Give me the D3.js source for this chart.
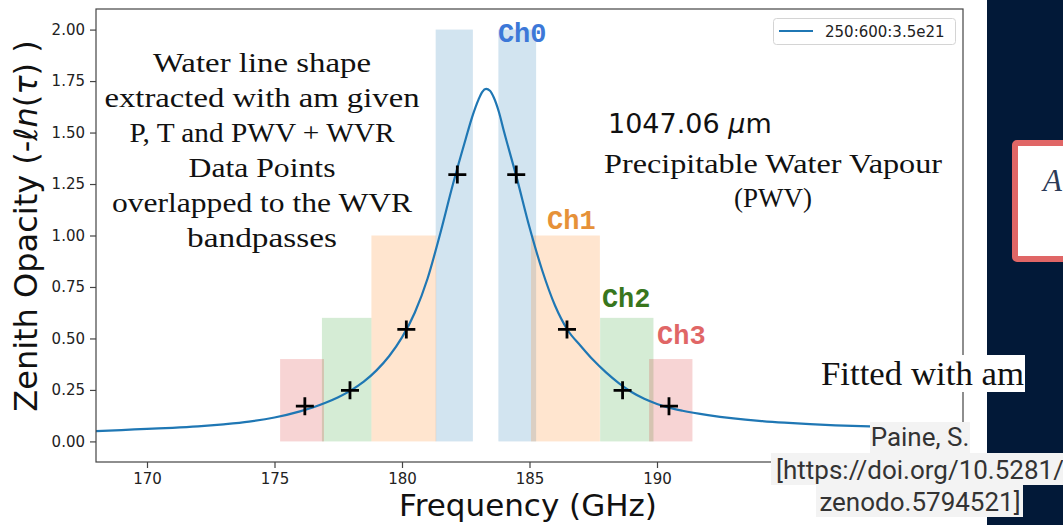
<!DOCTYPE html>
<html>
<head>
<meta charset="utf-8">
<script src="https://cdn.jsdelivr.net/npm/d3@7"></script>
<style>
  html, body { margin: 0; padding: 0; background: #ffffff; }
  svg { display: block; }
</style>
</head>
<body>
<svg id="chart" width="1063" height="525"></svg>
<script>
// Model water line opacity (am, 250:600:3.5e21)
const freqGHz = [168.0, 169.0, 170.0, 171.0, 172.0, 173.0, 174.0, 175.0, 176.0, 176.5,
  177.0, 177.5, 178.0, 178.5, 179.0, 179.5, 180.0, 180.5, 181.0, 181.5,
  182.0, 182.5, 182.75, 183.0, 183.15, 183.3, 183.45, 183.6, 183.8, 184.0,
  184.5, 185.0, 185.5, 186.0, 186.5, 187.0, 187.5, 188.0, 188.5, 189.0,
  189.5, 190.0, 190.5, 191.0, 192.0, 193.0, 194.0, 195.0, 196.0, 197.0,
  198.0, 199.0, 200.0, 201.0, 202.0];
const opacity = [0.050, 0.055, 0.061, 0.066, 0.073, 0.083, 0.096, 0.116, 0.146, 0.165,
  0.188, 0.215, 0.248, 0.290, 0.345, 0.415, 0.505, 0.625, 0.790, 1.010,
  1.250, 1.470, 1.575, 1.660, 1.698, 1.712, 1.703, 1.670, 1.600, 1.505,
  1.280, 1.040, 0.830, 0.660, 0.540, 0.465, 0.395, 0.335, 0.283, 0.240,
  0.207, 0.182, 0.163, 0.149, 0.128, 0.112, 0.100, 0.091, 0.084, 0.078,
  0.074, 0.070, 0.067, 0.065, 0.063];

// WVR data points
const wvrFreq = [176.19, 177.96, 180.17, 182.17, 184.48, 186.47, 188.65, 190.47];
const wvrOpacity = [0.171, 0.248, 0.544, 1.296, 1.296, 0.544, 0.248, 0.171];

// WVR bandpasses (lower and upper sidebands, GHz)
const channelNames = ["Ch0", "Ch1", "Ch2", "Ch3"];
const channelLower = [[181.32, 182.78], [178.80, 181.34], [176.86, 178.80], [175.22, 176.94]];
const channelUpper = [[183.78, 185.26], [185.06, 187.76], [187.77, 189.86], [189.69, 191.39]];
const channelHeight = [2.0, 1.0, 0.6, 0.4];
const channelFill = ["#1f77b4", "#ff7f0e", "#2ca02c", "#d62728"];
const channelTextColor = ["#3c78d8", "#e69138", "#38761d", "#e06666"];
const channelLabelFreq = [183.76, 185.69, 187.84, 190.0];
const channelLabelOpacity = [1.94, 1.03, 0.653, 0.473];

const xTicks = [170, 175, 180, 185, 190, 195];
const yTicks = [0.00, 0.25, 0.50, 0.75, 1.00, 1.25, 1.50, 1.75, 2.00];
const legendLabel = "250:600:3.5e21";

const svg = d3.select("#chart");
const W = 1063, H = 525;
const plot = { left: 96, right: 963, top: 9, bottom: 462 };

const x = d3.scaleLinear().domain([168, 202]).range([plot.left, plot.right]);
const y = d3.scaleLinear().domain([-0.1, 2.1]).range([plot.bottom, plot.top]);

svg.append("rect").attr("width", W).attr("height", H).attr("fill", "#ffffff");

// clip for plot area
svg.append("clipPath").attr("id", "plotClip")
  .append("rect").attr("x", plot.left).attr("y", plot.top)
  .attr("width", plot.right - plot.left).attr("height", plot.bottom - plot.top);

const g = svg.append("g").attr("clip-path", "url(#plotClip)");

// bandpass spans
const bands = [];
channelNames.forEach((name, i) => {
  [channelLower[i], channelUpper[i]].forEach(b => bands.push({ lo: b[0], hi: b[1], h: channelHeight[i], c: channelFill[i] }));
});
g.selectAll("rect.band").data(bands).join("rect")
  .attr("class", "band")
  .attr("x", d => x(d.lo))
  .attr("width", d => x(d.hi) - x(d.lo))
  .attr("y", d => y(d.h))
  .attr("height", d => y(0) - y(d.h))
  .attr("fill", d => d.c)
  .attr("fill-opacity", 0.2);

// model curve
const line = d3.line().x((d, i) => x(freqGHz[i])).y(d => y(d)).curve(d3.curveMonotoneX);
g.append("path").datum(opacity)
  .attr("d", line)
  .attr("fill", "none")
  .attr("stroke", "#1f77b4")
  .attr("stroke-width", 2.2);

// WVR points as "+" markers
const m = 9;
g.selectAll("path.pt").data(wvrFreq).join("path")
  .attr("class", "pt")
  .attr("d", (d, i) => {
    const cx = x(d), cy = y(wvrOpacity[i]);
    return `M${cx - m},${cy}H${cx + m}M${cx},${cy - m}V${cy + m}`;
  })
  .attr("stroke", "#000")
  .attr("stroke-width", 2.8)
  .attr("fill", "none");

// axes
const axisColor = "#444";
const xAxis = svg.append("g").attr("transform", `translate(0,${plot.bottom})`)
  .call(d3.axisBottom(x).tickValues(xTicks).tickFormat(d3.format("d")).tickSize(6).tickPadding(5));
const yAxis = svg.append("g").attr("transform", `translate(${plot.left},0)`)
  .call(d3.axisLeft(y).tickValues(yTicks).tickFormat(d3.format(".2f")).tickSize(6).tickPadding(5));
[xAxis, yAxis].forEach(a => {
  a.select(".domain").remove();
  a.selectAll(".tick line").attr("stroke", axisColor).attr("stroke-width", 1.2);
  a.selectAll(".tick text").attr("fill", "#222")
    .style("font-family", "'DejaVu Sans', sans-serif").style("font-size", "15px");
});

// frame
svg.append("rect")
  .attr("x", plot.left).attr("y", plot.top)
  .attr("width", plot.right - plot.left).attr("height", plot.bottom - plot.top)
  .attr("fill", "none").attr("stroke", axisColor).attr("stroke-width", 1.2);

// axis labels
svg.append("text")
  .attr("x", 528).attr("y", 516)
  .attr("text-anchor", "middle")
  .style("font-family", "'DejaVu Sans', sans-serif").style("font-size", "31px").attr("fill", "#111")
  .text("Frequency (GHz)");

const yl = svg.append("text")
  .attr("transform", "translate(37,226) rotate(-90)")
  .attr("text-anchor", "middle")
  .style("font-family", "'DejaVu Sans', sans-serif").style("font-size", "32px").attr("fill", "#111");
yl.append("tspan").text("Zenith Opacity (-");
yl.append("tspan").attr("font-style", "italic").text("ℓn");
yl.append("tspan").text("(");
yl.append("tspan").attr("font-style", "italic").text("τ");
yl.append("tspan").text(") )");

// channel labels
svg.selectAll("text.ch").data(channelNames).join("text")
  .attr("class", "ch")
  .attr("x", (d, i) => x(channelLabelFreq[i]))
  .attr("y", (d, i) => y(channelLabelOpacity[i]))
  .attr("fill", (d, i) => channelTextColor[i])
  .style("font-family", "'Liberation Mono', 'Courier New', monospace")
  .style("font-weight", "bold").style("font-size", "27px")
  .text(d => d);

// legend
const lg = svg.append("g");
lg.append("rect").attr("x", 773.5).attr("y", 18.5).attr("width", 182).attr("height", 26)
  .attr("rx", 3).attr("fill", "#fff").attr("stroke", "#d4d4d4").attr("stroke-width", 1);
lg.append("line").attr("x1", 779).attr("x2", 813).attr("y1", 31).attr("y2", 31)
  .attr("stroke", "#1f77b4").attr("stroke-width", 2.2);
lg.append("text").attr("x", 825).attr("y", 36.5)
  .style("font-family", "'DejaVu Sans', sans-serif").style("font-size", "15px").attr("fill", "#222")
  .text(legendLabel);

// annotation text
const serif = "'Liberation Serif', 'Times New Roman', serif";
const leftNote = [
  ["Water line shape", 72, 218],
  ["extracted with am given", 107, 315],
  ["P, T and PWV + WVR", 142, 265],
  ["Data Points", 177, 147],
  ["overlapped to the WVR", 212, 300],
  ["bandpasses", 247, 150]
];
svg.selectAll("text.note").data(leftNote).join("text")
  .attr("class", "note")
  .attr("x", 262).attr("y", d => d[1])
  .attr("text-anchor", "middle")
  .attr("textLength", d => d[2]).attr("lengthAdjust", "spacingAndGlyphs")
  .style("font-family", serif).style("font-size", "27px").attr("fill", "#111")
  .text(d => d[0]);

const pwv = svg.append("text").attr("x", 608).attr("y", 133)
  .style("font-family", "'DejaVu Sans', sans-serif").style("font-size", "27px").attr("fill", "#111");
pwv.append("tspan").text("1047.06 ");
pwv.append("tspan").attr("font-style", "italic").text("μ");
pwv.append("tspan").text("m");

svg.append("text").attr("x", 773).attr("y", 173).attr("text-anchor", "middle")
  .attr("textLength", 338).attr("lengthAdjust", "spacingAndGlyphs")
  .style("font-family", serif).style("font-size", "27px").attr("fill", "#111")
  .text("Precipitable Water Vapour");
svg.append("text").attr("x", 773).attr("y", 207).attr("text-anchor", "middle")
  .style("font-family", serif).style("font-size", "27px").attr("fill", "#111")
  .text("(PWV)");

// side panel
svg.append("rect").attr("x", 987).attr("y", 0).attr("width", W - 987).attr("height", H).attr("fill", "#021938");
svg.append("rect").attr("x", 1015).attr("y", 143).attr("width", 80).attr("height", 116)
  .attr("rx", 2).attr("fill", "#ffffff").attr("stroke", "#e06666").attr("stroke-width", 6);
svg.append("text").attr("x", 1043).attr("y", 191)
  .style("font-family", serif).style("font-style", "italic").style("font-size", "31px").attr("fill", "#2b3a57")
  .text("A");

// "Fitted with am" caption
svg.append("rect").attr("x", 818).attr("y", 355).attr("width", 207).attr("height", 37).attr("fill", "#ffffff");
svg.append("text").attr("x", 821).attr("y", 385)
  .attr("textLength", 203).attr("lengthAdjust", "spacingAndGlyphs")
  .style("font-family", serif).style("font-size", "34px").attr("fill", "#111")
  .text("Fitted with am");

// citation
const cite = [
  ["Paine, S.", 870, 422, 100, 446],
  ["[https://doi.org/10.5281/", 771, 453, 300, 479],
  ["zenodo.5794521]", 816, 485, 207, 511]
];
cite.forEach(c => {
  svg.append("rect").attr("x", c[1]).attr("y", c[2]).attr("width", c[3]).attr("height", 32).attr("fill", "#f3f3f3");
});
cite.forEach(c => {
  svg.append("text").attr("x", 920).attr("y", c[4]).attr("text-anchor", "middle")
    .style("font-family", "Roboto, sans-serif").style("font-size", "26px").attr("fill", "#333")
    .text(c[0]);
});
</script>
</body>
</html>
